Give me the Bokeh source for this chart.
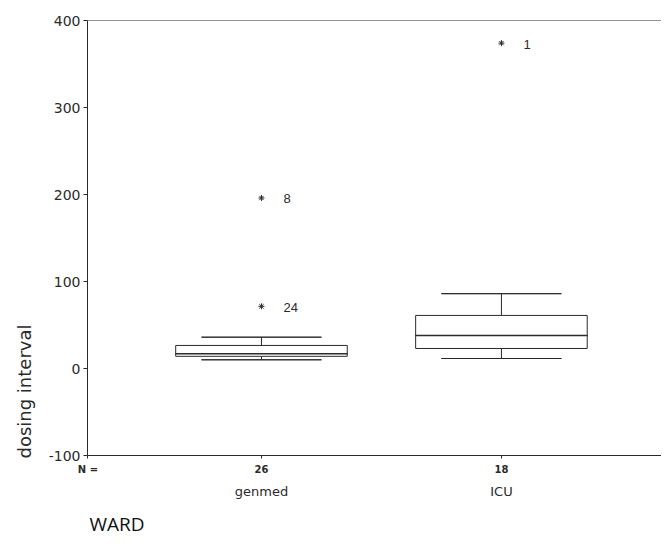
from bokeh.plotting import figure
from bokeh.models import LinearAxis, FixedTicker, Span, Range1d, ColumnDataSource, Title
from bokeh.core.properties import value
from bokeh.embed import file_html
from bokeh.resources import INLINE

# ---- data ----
wards = ["genmed", "ICU"]
n_counts = ["26", "18"]
ward_pos = [1, 2]
q1 = [14, 23]
median = [17, 38]
q3 = [26.5, 61]
whisk_low = [10, 11.5]
whisk_high = [36, 86]
outlier_pos = [1, 1, 2]
outlier_vals = [196, 71.5, 374]
outlier_ids = ["8", "24", "1"]
y_ticks = [-100, 0, 100, 200, 300, 400]

INK = "#2a2a2a"
X_LO, X_HI = 0.275, 2.667

p = figure(width=661, height=547, x_range=Range1d(X_LO, X_HI), y_range=Range1d(-100, 400),
           output_backend="svg", toolbar_location=None, x_axis_type=None,
           min_border_left=87, min_border_top=20, min_border_right=0, min_border_bottom=92)
p.outline_line_color = None
p.grid.visible = False
p.background_fill_color = "white"

# y axis
ya = p.yaxis[0]
ya.ticker = FixedTicker(ticks=y_ticks)
ya.major_label_overrides = {t: str(t) for t in y_ticks}
ya.minor_tick_line_color = None
ya.major_tick_in = 0
ya.major_tick_out = 4
ya.major_label_standoff = 3
ya.axis_line_color = INK
ya.major_tick_line_color = INK
ya.major_label_text_font = "DejaVu Sans"
ya.major_label_text_font_size = "14px"
ya.major_label_text_color = INK

# x axis 1: N counts (with the "N =" caption at the axis start)
n_labels = {X_LO + 0.002: "N ="}
n_labels.update({pos: n for pos, n in zip(ward_pos, n_counts)})
xa1 = LinearAxis(ticker=FixedTicker(ticks=list(n_labels.keys())), major_label_overrides=n_labels)
xa1.minor_tick_line_color = None
xa1.major_tick_in = 0
xa1.major_tick_out = 3
xa1.major_label_standoff = 5
xa1.axis_line_color = INK
xa1.major_tick_line_color = INK
xa1.major_label_text_font = "DejaVu Sans"
xa1.major_label_text_font_size = "10px"
xa1.major_label_text_font_style = "bold"
xa1.major_label_text_color = INK
p.add_layout(xa1, "below")

# x axis 2: ward names
xa2 = LinearAxis(ticker=FixedTicker(ticks=ward_pos),
                 major_label_overrides={pos: w for pos, w in zip(ward_pos, wards)})
xa2.minor_tick_line_color = None
xa2.major_tick_line_color = None
xa2.axis_line_color = None
xa2.major_label_standoff = 0
xa2.major_label_text_font = "DejaVu Sans"
xa2.major_label_text_font_size = "13px"
xa2.major_label_text_color = INK
p.add_layout(xa2, "below")

# axis titles
p.add_layout(Title(text="dosing interval", align="left", offset=-3, standoff=22,
                   text_font="DejaVu Sans", text_font_size="18px", text_font_style="normal",
                   text_color=INK), "left")
p.add_layout(Title(text="WARD", align="left", offset=2, standoff=14,
                   text_font="Open Sans", text_font_size="19px", text_font_style="normal",
                   text_color="#111111"), "below")

# top border
p.add_layout(Span(location=400, dimension="width", line_color=INK, line_width=1))

src = ColumnDataSource(dict(x=ward_pos, q1=q1, med=median, q3=q3, lo=whisk_low, hi=whisk_high))
# whiskers
p.segment(x0="x", y0="q3", x1="x", y1="hi", source=src, line_color=INK, line_width=1)
p.segment(x0="x", y0="q1", x1="x", y1="lo", source=src, line_color=INK, line_width=1)
p.rect(x="x", y="hi", width=0.5, height=0.01, source=src, fill_color=None, line_color=INK, line_width=1)
p.rect(x="x", y="lo", width=0.5, height=0.01, source=src, fill_color=None, line_color=INK, line_width=1)
# boxes
p.vbar(x="x", bottom="q1", top="q3", width=0.715, source=src, fill_color="white", line_color=INK, line_width=1)
p.rect(x="x", y="med", width=0.715, height=0.01, source=src, fill_color=None, line_color=INK, line_width=1.5)

# outliers
osrc = ColumnDataSource(dict(x=outlier_pos, y=outlier_vals, t=outlier_ids))
p.scatter(x="x", y="y", source=osrc, marker="asterisk", size=6, line_color=INK, line_width=1)
p.text(x="x", y="y", text="t", source=osrc, x_offset=22, y_offset=1, text_baseline="middle",
       text_align="left", text_font=value("Liberation Sans"), text_font_size="13px", text_color=INK)

open("out.html", "w").write(file_html(p, INLINE))
